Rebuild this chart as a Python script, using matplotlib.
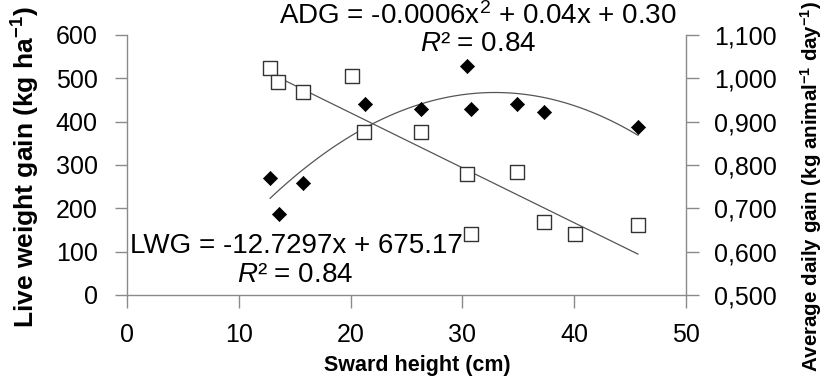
import numpy as np
import matplotlib
matplotlib.use("Agg")
import matplotlib.pyplot as plt
from matplotlib.ticker import FuncFormatter

plt.rcParams['font.family'] = ['Liberation Sans', 'DejaVu Sans']
plt.rcParams['mathtext.fontset'] = 'custom'
plt.rcParams['mathtext.rm'] = 'Liberation Sans'
plt.rcParams['mathtext.it'] = 'Liberation Sans:italic'
plt.rcParams['mathtext.bf'] = 'Liberation Sans:bold'

# ---- data ----
x_lwg = [12.8, 13.5, 15.7, 20.1, 21.2, 26.3, 30.4, 30.8, 34.9, 37.3, 40.1, 45.7]
lwg = [525, 491, 469, 506, 377, 377, 279, 140, 283, 169, 141, 161]
x_adg = [12.8, 13.6, 15.7, 21.3, 26.3, 30.4, 30.8, 34.9, 37.3, 45.7]
adg = [0.771, 0.688, 0.759, 0.941, 0.929, 1.029, 0.929, 0.941, 0.923, 0.888]

x_ticks = [0, 10, 20, 30, 40, 50]
left_ticks = [0, 100, 200, 300, 400, 500, 600]
right_ticks = [0.5, 0.6, 0.7, 0.8, 0.9, 1.0, 1.1]

lwg_eq = "LWG = -12.7297x + 675.17"
adg_eq = r"ADG = -0.0006x$^{2}$ + 0.04x + 0.30"
r2_txt = r"$\mathit{R}$² = 0.84"

GREY = '#8a8a8a'
TICK_FS = 18
EQ_FS = 20

fig = plt.figure(figsize=(8.26, 3.77), dpi=100)
W, H = 826, 377
ax = fig.add_axes([127 / W, (H - 295) / H, (686 - 127) / W, 260 / H])
ax2 = ax.twinx()

# trendlines from data fits
xl = np.linspace(min(x_lwg), max(x_lwg), 100)
cl = np.polyfit(x_lwg, lwg, 1)
ax.plot(xl, np.polyval(cl, xl), color='#555555', lw=0.9, zorder=2)
xa = np.linspace(min(x_adg), max(x_adg), 100)
ca = np.polyfit(x_adg, adg, 2)
ax2.plot(xa, np.polyval(ca, xa), color='#555555', lw=0.9, zorder=2)

ax.scatter(x_lwg, lwg, marker='s', s=92, facecolor='white',
           edgecolor='#333333', linewidth=1.0, zorder=5)
ax2.scatter(x_adg, adg, marker='D', s=52, facecolor='black',
            edgecolor='black', linewidth=0.5, zorder=5)
ax.set_zorder(ax2.get_zorder() + 1)
ax.patch.set_visible(False)

ax.set_xlim(0, 50)
ax.set_ylim(0, 600)
ax2.set_ylim(0.5, 1.1)
ax.set_xticks(x_ticks)
ax.set_yticks(left_ticks)
ax2.set_yticks(right_ticks)
ax2.yaxis.set_major_formatter(FuncFormatter(lambda v, p: f"{v:.3f}".replace('.', ',')))

for a in (ax, ax2):
    for s in a.spines.values():
        s.set_color(GREY)
        s.set_linewidth(1.0)
    a.spines['top'].set_visible(False)
ax.spines['right'].set_visible(False)
ax2.spines['left'].set_visible(False)
ax2.spines['bottom'].set_visible(False)

ax.tick_params(axis='x', direction='out', length=9, width=1, color=GREY,
               labelsize=TICK_FS, pad=11, labelcolor='black')
ax.tick_params(axis='y', direction='out', length=9, width=1, color=GREY,
               labelsize=TICK_FS, pad=12, labelcolor='black')
ax2.tick_params(axis='y', direction='out', length=9, width=1, color=GREY,
                labelsize=TICK_FS, pad=11, labelcolor='black')

fig.text(10 / W, 1 - 167 / H, r"Live weight gain (kg ha$^{\mathbf{-1}}$)",
         rotation=90, ha='left', va='center', fontsize=19, fontweight='bold')
fig.text(824 / W, 1 - 186 / H, r"Average daily gain (kg animal$^{\mathbf{-1}}$ day$^{\mathbf{-1}}$)",
         rotation=90, ha='right', va='center', fontsize=14.8, fontweight='bold')
fig.text(417 / W, 1 - 376 / H, "Sward height (cm)", ha='center', va='bottom',
         fontsize=15.5, fontweight='bold')

fig.text(478 / W, 1 - 16 / H, adg_eq, ha='center', va='center', fontsize=EQ_FS)
fig.text(478 / W, 1 - 44 / H, r2_txt, ha='center', va='center', fontsize=EQ_FS)
fig.text(296 / W, 1 - 246 / H, lwg_eq, ha='center', va='center', fontsize=EQ_FS)
fig.text(295 / W, 1 - 275 / H, r2_txt, ha='center', va='center', fontsize=EQ_FS)

fig.savefig("out.png", dpi=100)
